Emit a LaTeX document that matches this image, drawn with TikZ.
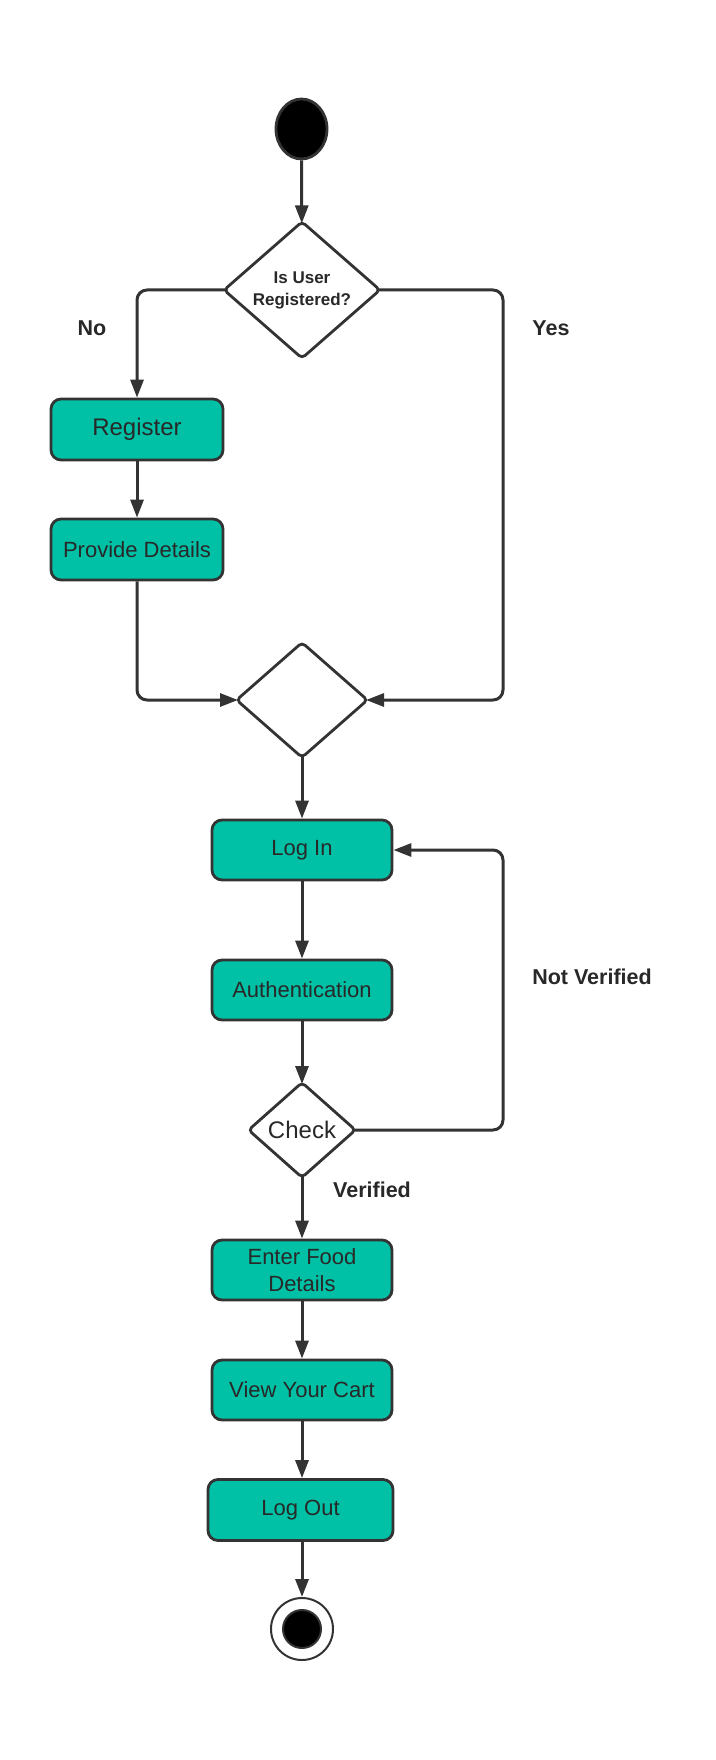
\documentclass[tikz,border=0pt]{standalone}
\usepackage{fontspec}
\setmainfont{Liberation Sans}
\usetikzlibrary{positioning, calc, arrows.meta, shapes.geometric}
\definecolor{actfill}{RGB}{0,192,165}
\definecolor{linegray}{RGB}{51,51,51}
\definecolor{textgray}{RGB}{40,40,40}

\begin{document}
\begin{tikzpicture}[x=1pt, y=-1pt, line width=2.8pt,
    action/.style={rectangle, rounded corners=10pt, draw=linegray, fill=actfill, text=textgray,
        minimum width=180pt, minimum height=60pt, inner sep=0pt, align=center,
        font=\fontsize{22}{27}\selectfont},
    decision/.style={diamond, rounded corners=4pt, draw=linegray, fill=white, inner sep=0pt,
        outer sep=-1pt, text=textgray, align=center},
    flow/.style={-{Triangle[length=18pt,width=13pt]}, draw=linegray, line width=3pt, rounded corners=10pt},
    guard/.style={text=textgray, font=\fontsize{21.5}{26}\selectfont\bfseries}]
                \useasboundingbox (0,0) rectangle (715,1760);
                % nodes
                \node[ellipse, fill=black, draw=linegray, minimum width=51pt, minimum height=60pt] (start) at (301.5,129) {};
                \node[decision, minimum width=155pt, minimum height=134pt, font=\fontsize{17}{22}\selectfont\bfseries] (registered) at (302,290) {Is User\\Registered?};
                \node[action, minimum width=172pt, minimum height=61pt, font=\fontsize{24}{28}\selectfont] (register) at (137,429.5) {Register};
                \node[action, minimum width=172pt, minimum height=61pt] (details) at (137,549.5) {Provide Details};
                \node[decision, minimum width=130pt, minimum height=114pt] (merge) at (302,700) {};
                \node[action] (login) at (302,850) {Log In};
                \node[action] (auth) at (302,990) {Authentication};
                \node[decision, minimum width=106pt, minimum height=94pt, font=\fontsize{24}{28}\selectfont] (check) at (302,1130) {Check};
                \node[action] (food) at (302,1270) {Enter Food\\Details};
                \node[action] (cart) at (302,1390) {View Your Cart};
                \node[action, minimum width=185pt, minimum height=61pt] (logout) at (300.5,1510) {Log Out};
                \node[circle, draw=linegray, line width=2pt, fill=white, minimum size=62pt] (stop) at (302,1629) {};
                \node[circle, draw=linegray, line width=2pt, fill=black, minimum size=38pt] (stopdot) at (stop) {};
                \coordinate (rightside) at (503,0);
                % guards
                \node[guard] (no) at (92,328) {No};
                \node[guard] (yes) at (551,328) {Yes};
                \node[guard] (notverified) at (592,977) {Not Verified};
                \node[guard] (verified) at (372,1190) {Verified};
                % flows
                \draw[flow] (start) -- (registered);
                \draw[flow] (registered.west) -| (register.north);
                \draw[flow] (register) -- (details);
                \draw[flow] (details.south) |- (merge.west);
                \draw[flow] (registered.east) -| (rightside |- merge.east) -- (merge.east);
                \draw[flow] (merge) -- (login);
                \draw[flow] (login) -- (auth);
                \draw[flow] (auth) -- (check);
                \draw[flow] (check.east) -| (rightside |- login.east) -- (login.east);
                \draw[flow] (check) -- (food);
                \draw[flow] (food) -- (cart);
                \draw[flow] (cart) -- (cart |- logout.north);
                \draw[flow] (logout.south -| stop) -- (stop);
            \end{tikzpicture}
\end{document}
